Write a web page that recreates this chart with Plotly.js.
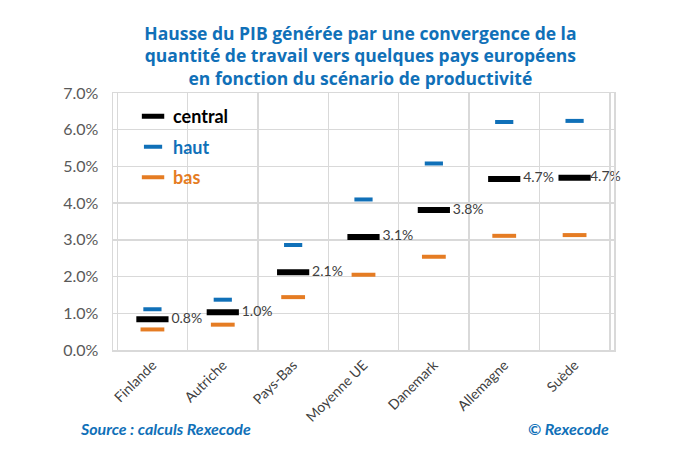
<!DOCTYPE html>
<html>
<head>
<meta charset="utf-8">
<script src="https://cdn.plot.ly/plotly-3.0.1.min.js"></script>
<style>
  body { margin: 0; background: #fff; }
  #plot { width: 680px; height: 460px; }
</style>
</head>
<body>
<div id="plot"></div>
<script>
const pays = ['Finlande', 'Autriche', 'Pays-Bas', 'Moyenne UE', 'Danemark', 'Allemagne', 'Suède'];
const central = [0.84, 1.03, 2.12, 3.08, 3.81, 4.66, 4.69];
const haut = [1.11, 1.37, 2.86, 4.10, 5.08, 6.21, 6.24];
const bas = [0.56, 0.69, 1.44, 2.05, 2.54, 3.11, 3.13];
const yTicks = [0, 1, 2, 3, 4, 5, 6, 7];

const blue = '#1070b8';
const orange = '#e57c23';
const font = 'Lato, "Noto Sans", sans-serif';

function dashTrace(name, y, color, size, width) {
    return {
        x: pays,
        y,
        name,
        legendgroup: name,
        type: 'scatter',
        mode: 'markers',
        cliponaxis: false,
        marker: { symbol: 'line-ew', size, line: { color, width } },
        hoverinfo: 'skip'
    };
}

// the last label sits right against its mark, as in the source
const tCentral = dashTrace('<b>central</b>', central, '#000', 23, 6);
tCentral.mode = 'markers+text';
tCentral.text = central.map((v, i) => (i < central.length - 1 ? ' ' : '') + v.toFixed(1) + '%');
tCentral.textposition = 'middle right';
tCentral.textfont = { family: font, size: 14, color: '#404040' };

const tHaut = dashTrace('<b><span style="color:' + blue + '">haut</span></b>', haut, blue, 13, 4);
const tBas = dashTrace('<b><span style="color:' + orange + '">bas</span></b>', bas, orange, 17, 4);

const layout = {
    width: 680,
    height: 460,
    margin: { l: 113, r: 66, t: 93, b: 110 },
    paper_bgcolor: '#fff',
    plot_bgcolor: '#fff',
    font: { family: font, color: '#404040' },
    title: {
        text: '<b>Hausse du PIB générée par une convergence de la<br>quantité de travail vers quelques pays européens<br>en fonction du scénario de productivité</b>',
        font: { family: '"Open Sans", Lato, sans-serif', size: 17.5, color: blue },
        x: 0.53,
        xanchor: 'center',
        y: 0.914,
        yanchor: 'top'
    },
    showlegend: true,
    legend: {
        x: 0.04,
        y: 0.98,
        xanchor: 'left',
        yanchor: 'top',
        bgcolor: 'rgba(255,255,255,0)',
        font: { family: font, size: 18, color: '#000' },
        itemwidth: 30,
        tracegroupgap: 4,
        traceorder: 'grouped'
    },
    xaxis: {
        type: 'category',
        tickson: 'boundaries',
        showgrid: true,
        gridcolor: '#d9d9d9',
        gridwidth: 1.5,
        showline: true,
        linecolor: '#d9d9d9',
        linewidth: 1.5,
        mirror: true,
        ticks: '',
        tickangle: -45,
        tickfont: { family: font, size: 14, color: '#404040' },
        zeroline: false
    },
    yaxis: {
        range: [0, 7],
        tickvals: yTicks,
        ticktext: yTicks.map(v => v.toFixed(1) + '%'),
        showgrid: true,
        gridcolor: '#d9d9d9',
        gridwidth: 1.5,
        showline: true,
        linecolor: '#d9d9d9',
        linewidth: 1.5,
        mirror: true,
        ticks: '',
        ticklabelstandoff: 10,
        tickfont: { family: font, size: 16, color: '#595959' },
        zeroline: false
    },
    annotations: [
        {
            text: '<b><i>Source : calculs Rexecode</i></b>',
            xref: 'paper', yref: 'paper',
            x: -0.07, y: -0.305,
            xanchor: 'left', yanchor: 'middle',
            showarrow: false,
            font: { family: font, size: 16, color: blue }
        },
        {
            text: '<b><i>© Rexecode</i></b>',
            xref: 'paper', yref: 'paper',
            x: 0.995, y: -0.305,
            xanchor: 'right', yanchor: 'middle',
            showarrow: false,
            font: { family: font, size: 16, color: blue }
        }
    ]
};

Plotly.newPlot('plot', [tCentral, tHaut, tBas], layout, { displayModeBar: false, staticPlot: true });
</script>
</body>
</html>
